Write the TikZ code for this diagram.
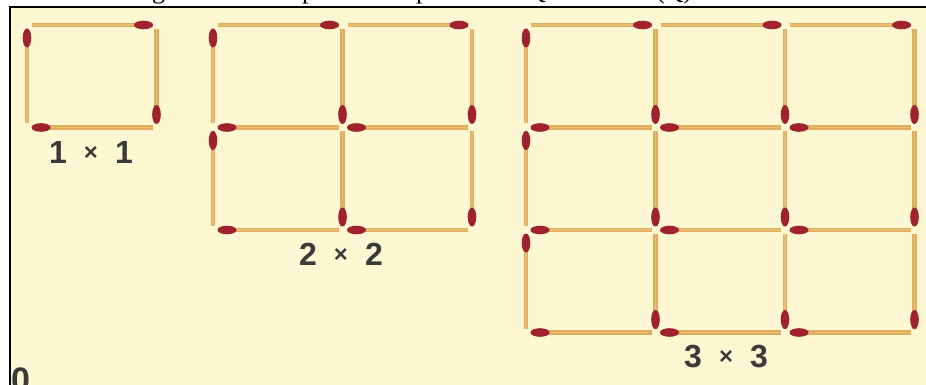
\documentclass[tikz,border=0pt]{standalone}
\usepackage{fontspec}
\setmainfont{Liberation Serif}
\newfontfamily\labelfont{Liberation Sans}

\definecolor{paper}{HTML}{FDF7D2}
\definecolor{stickdark}{HTML}{DFAD5C}
\definecolor{sticklight}{HTML}{E8BD72}
\definecolor{headred}{HTML}{A0222C}
\definecolor{labelgray}{HTML}{3A3A3A}

% cell size of the matchstick grids
\def\cw{129.5}
\def\ch{102.5}

\tikzset{
  stick/.style={line width=4.4pt, draw=stickdark},
  stickhi/.style={line width=1.8pt, draw=sticklight},
  headfill/.style={fill=headred},
  lbl/.style={inner sep=0pt, text=labelgray,
    font=\labelfont\bfseries\fontsize{32}{32}\selectfont},
  captionglyph/.style={inner sep=0pt, anchor=base west,
    font=\fontsize{26}{26}\selectfont},
}

% horizontal match: #1 = left x, #2 = right x, #3 = y, #4 = head side (0 right, 1 left)
\newcommand\hmatch[4]{%
  \draw[stick] (#1,#3) -- (#2,#3);
  \draw[stickhi] (#1,#3) -- (#2,#3);
  \ifnum#4=0
    \fill[headfill] ({#2-9},#3) ellipse [x radius=9.5, y radius=4.3];
  \else
    \fill[headfill] ({#1+9},#3) ellipse [x radius=9.5, y radius=4.3];
  \fi}

% vertical match: #1 = x, #2 = top y, #3 = bottom y, #4 = head side (0 top, 1 bottom)
\newcommand\vmatch[4]{%
  \draw[stick] (#1,#2) -- (#1,#3);
  \draw[stickhi] (#1,#2) -- (#1,#3);
  \ifnum#4=0
    \fill[headfill] (#1,{#2+9}) ellipse [x radius=4.3, y radius=9.5];
  \else
    \fill[headfill] (#1,{#3-9}) ellipse [x radius=4.3, y radius=9.5];
  \fi}

% n x n grid of matches with top-left corner (#1,#2)
\newcommand\matchgrid[3]{%
  \pgfmathtruncatemacro\nlast{#3-1}%
  \foreach \j in {0,...,#3}{%
    \foreach \i in {0,...,\nlast}{%
      \pgfmathsetmacro\xa{#1+\i*\cw+5}%
      \pgfmathsetmacro\xb{#1+(\i+1)*\cw-4}%
      \pgfmathsetmacro\yy{#2+\j*\ch}%
      \ifnum\j=0 \hmatch{\xa}{\xb}{\yy}{0}\else \hmatch{\xa}{\xb}{\yy}{1}\fi
    }%
  }%
  \foreach \i in {0,...,#3}{%
    \foreach \j in {0,...,\nlast}{%
      \pgfmathsetmacro\xx{#1+\i*\cw}%
      \pgfmathsetmacro\ya{#2+\j*\ch+4}%
      \pgfmathsetmacro\yb{#2+(\j+1)*\ch-4}%
      \ifnum\i=0 \vmatch{\xx}{\ya}{\yb}{0}\else \vmatch{\xx}{\ya}{\yb}{1}\fi
    }%
  }}

\newcommand\timesign{\hspace{17pt}\raisebox{3pt}{\fontsize{24}{24}\selectfont ×}\hspace{17pt}}

\begin{document}
\begin{tikzpicture}[x=1pt, y=-1pt]
  \useasboundingbox (0,0) rectangle (926,385);
  \clip (0,0) rectangle (926,385);
  \fill[white] (0,0) rectangle (926,385);
  \fill[paper] (10,7) rectangle (926,385);

  % lower edge of the caption line above the panel
  \node[captionglyph] (cg) at (152,-1) {g};
  \node[captionglyph] (cp1) at (302,-1) {p};
  \node[captionglyph] (cp2) at (416,-1) {p};
  \node[captionglyph] (cq) at (527,-1) {Q};
  \node[captionglyph] (cq2) at (656,-1) {(Q)};

  % panel frame
  \draw[black, line width=2pt] (10,385) -- (10,7) -- (926,7);

  % matchstick squares
  \matchgrid{27}{25}{1}
  \matchgrid{213}{25}{2}
  \matchgrid{526}{25}{3}

  % size labels
  \node[lbl] (l1) at (91,152) {1\timesign 1};
  \node[lbl] (l2) at (341,254) {2\timesign 2};
  \node[lbl] (l3) at (726,357) {3\timesign 3};

  % number cut off at the bottom edge
  \node[lbl, anchor=north west, font=\labelfont\bfseries\fontsize{34}{34}\selectfont] (n0) at (11,368) {0};
\end{tikzpicture}
\end{document}
